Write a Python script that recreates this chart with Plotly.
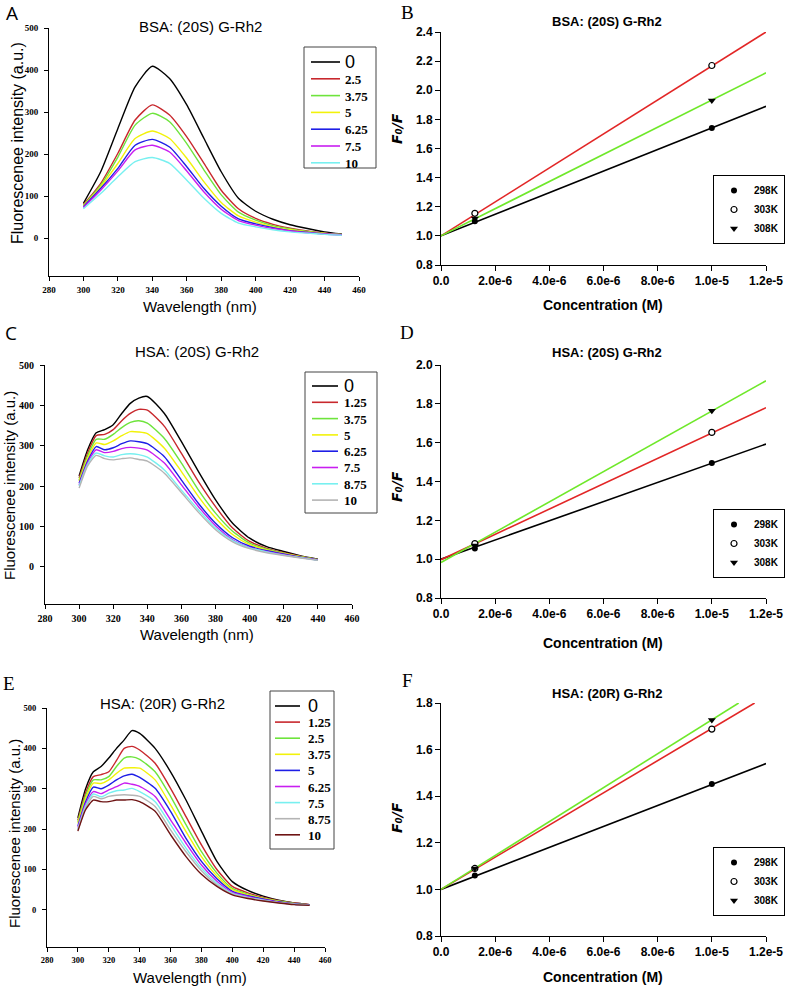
import plotly.graph_objects as go

W, H = 789, 987

# ---------------- Panel A: BSA (20S) emission spectra ----------------
A_wl = [300, 310, 320, 330, 340, 350, 360, 370, 380, 390, 400, 410, 420, 430, 440, 450]
A_labels = ["0", "2.5", "3.75", "5", "6.25", "7.5", "10"]
A_0 = [83, 158, 261, 360, 409, 380, 317, 237, 158, 95, 64, 45, 32, 23, 15, 10]
A_2_5 = [80, 130, 202, 281, 317, 293, 241, 178, 114, 70, 47, 33, 24, 17, 12, 9]
A_3_75 = [78, 126, 193, 269, 297, 277, 225, 162, 103, 62, 43, 30, 22, 16, 11, 9]
A_5 = [77, 122, 178, 237, 255, 237, 190, 134, 85, 53, 38, 27, 20, 15, 11, 8]
A_6_25 = [75, 118, 166, 221, 235, 217, 170, 118, 76, 46, 34, 25, 18, 14, 10, 8]
A_7_5 = [73, 114, 160, 210, 221, 205, 160, 110, 69, 42, 31, 23, 17, 13, 10, 8]
A_10 = [70, 106, 146, 182, 192, 178, 138, 95, 59, 36, 27, 20, 15, 12, 9, 7]

# ---------------- Panel C: HSA (20S) emission spectra ----------------
C_wl = [300, 305, 310, 315, 320, 325, 330, 335, 340, 350, 360, 370, 380, 390, 400, 410, 420, 430, 440]
C_labels = ["0", "1.25", "3.75", "5", "6.25", "7.5", "8.75", "10"]
C_0 = [225, 290, 332, 340, 352, 380, 405, 418, 422, 380, 310, 236, 166, 108, 71, 50, 38, 27, 19]
C_1_25 = [220, 282, 325, 328, 340, 362, 380, 390, 388, 348, 281, 211, 149, 96, 63, 46, 35, 26, 18]
C_3_75 = [215, 275, 316, 316, 328, 345, 358, 362, 356, 318, 257, 190, 133, 88, 59, 44, 34, 25, 18]
C_5 = [212, 268, 307, 303, 312, 325, 335, 334, 330, 294, 236, 174, 121, 80, 55, 42, 33, 25, 17]
C_6_25 = [207, 262, 298, 290, 295, 305, 312, 310, 305, 273, 215, 157, 108, 72, 51, 40, 32, 24, 17]
C_7_5 = [203, 258, 290, 283, 286, 293, 296, 294, 289, 257, 203, 149, 102, 67, 48, 38, 30, 23, 17]
C_8_75 = [200, 254, 282, 275, 272, 278, 280, 278, 272, 240, 190, 141, 96, 65, 47, 37, 29, 23, 16]
C_10 = [195, 250, 276, 268, 265, 268, 270, 266, 262, 232, 184, 135, 92, 62, 45, 35, 28, 22, 16]

# ---------------- Panel E: HSA (20R) emission spectra ----------------
E_wl = [300, 305, 310, 315, 320, 325, 330, 335, 340, 350, 360, 370, 380, 390, 400, 410, 420, 430, 440, 450]
E_labels = ["0", "1.25", "2.5", "3.75", "5", "6.25", "7.5", "8.75", "10"]
E_0 = [228, 300, 342, 355, 376, 400, 421, 444, 437, 400, 342, 272, 195, 120, 70, 48, 34, 24, 17, 13]
E_1_25 = [222, 290, 330, 335, 342, 370, 400, 405, 396, 363, 301, 231, 161, 100, 58, 42, 31, 23, 17, 13]
E_2_5 = [218, 283, 322, 322, 330, 355, 376, 379, 373, 342, 281, 211, 144, 91, 53, 39, 29, 22, 16, 12]
E_3_75 = [214, 276, 314, 313, 322, 338, 351, 352, 351, 322, 260, 194, 132, 84, 50, 37, 28, 21, 15, 12]
E_5 = [208, 268, 304, 300, 309, 322, 332, 336, 328, 301, 244, 177, 120, 77, 46, 35, 27, 20, 15, 12]
E_6_25 = [204, 262, 293, 288, 297, 305, 314, 311, 306, 281, 223, 165, 111, 71, 43, 33, 25, 19, 14, 11]
E_7_5 = [200, 257, 287, 280, 289, 295, 297, 301, 293, 268, 211, 153, 103, 66, 41, 31, 24, 18, 14, 11]
E_8_75 = [198, 252, 281, 275, 281, 284, 285, 284, 281, 256, 198, 144, 97, 62, 39, 30, 23, 18, 14, 11]
E_10 = [195, 248, 272, 268, 268, 272, 272, 273, 268, 244, 186, 132, 88, 58, 37, 28, 22, 17, 13, 11]

# ---------------- Stern-Volmer plots (B, D, F) ----------------
temps = ["298K", "303K", "308K"]
conc_pts = [1.25e-6, 1.0e-5]

B_298 = [1.10, 1.74]
B_303 = [1.155, 2.17]
B_308 = [1.12, 1.93]
B_fit_x298 = [0, 1.2e-5]; B_fit_298 = [1.0, 1.89]
B_fit_x303 = [0, 1.2e-5]; B_fit_303 = [1.0, 2.40]
B_fit_x308 = [0, 1.2e-5]; B_fit_308 = [1.0, 2.12]

D_298 = [1.055, 1.495]
D_303 = [1.08, 1.653]
D_308 = [1.07, 1.765]
D_fit_x298 = [0, 1.2e-5]; D_fit_298 = [1.0, 1.593]
D_fit_x303 = [0, 1.2e-5]; D_fit_303 = [0.997, 1.78]
D_fit_x308 = [0, 1.2e-5]; D_fit_308 = [0.983, 1.919]

F_298 = [1.06, 1.452]
F_303 = [1.09, 1.688]
F_308 = [1.09, 1.727]
F_fit_x298 = [0, 1.2e-5]; F_fit_298 = [1.0, 1.54]
F_fit_x303 = [0, 1.158e-5]; F_fit_303 = [1.0, 1.80]
F_fit_x308 = [0, 1.099e-5]; F_fit_308 = [1.0, 1.80]

conc_ticks = [0, 2e-6, 4e-6, 6e-6, 8e-6, 1e-5, 1.2e-5]
conc_ticktext = ["0.0", "2.0e-6", "4.0e-6", "6.0e-6", "8.0e-6", "1.0e-5", "1.2e-5"]

# ---------------- styling ----------------
SPEC_COLORS = {
    "black": "#000000", "red": "#c8282d", "green": "#6ee43c", "yellow": "#f2f20a",
    "blue": "#1e1ee6", "magenta": "#c81ef0", "cyan": "#78f0f0", "gray": "#b4b4b4",
    "brown": "#6e1414",
}
A_cols = ["black", "red", "green", "yellow", "blue", "magenta", "cyan"]
C_cols = ["black", "red", "green", "yellow", "blue", "magenta", "cyan", "gray"]
E_cols = ["black", "red", "green", "yellow", "blue", "magenta", "cyan", "gray", "brown"]
SV_COLORS = ["#000000", "#e22626", "#6fe82a"]


def px_x(p):
    return p / W


def px_y(p):
    return 1 - p / H


fig = go.Figure()
shapes = []
annotations = []


def ann(text, x, y, size, family="Liberation Sans", weight="normal", angle=0,
        color="black", xanchor="center", style="normal"):
    annotations.append(dict(text=text, x=px_x(x), y=px_y(y), xref="paper", yref="paper",
                            showarrow=False, textangle=angle, xanchor=xanchor, yanchor="middle",
                            font=dict(size=size, family=family, color=color, weight=weight,
                                      style=style)))


def add_spectra(wl, series, labels, cols, xa, ya, box, first_y, step, line_x, text_x, lsize):
    for s, lbl, c in zip(series, labels, cols):
        fig.add_trace(go.Scatter(
            x=wl, y=s, mode="lines", name=lbl,
            line=dict(color=SPEC_COLORS[c], width=1.4, shape="spline", smoothing=0.6),
            xaxis=xa, yaxis=ya, showlegend=False, hoverinfo="skip"))
    # legend box drawn from the label / colour lists
    x0, y0, x1, y1 = box
    shapes.append(dict(type="rect", xref="paper", yref="paper", x0=px_x(x0), x1=px_x(x1),
                       y0=px_y(y1), y1=px_y(y0), line=dict(color="#444444", width=1),
                       fillcolor="white", layer="above"))
    for i, (lbl, c) in enumerate(zip(labels, cols)):
        yc = first_y + i * step
        shapes.append(dict(type="line", xref="paper", yref="paper",
                           x0=px_x(line_x[0]), x1=px_x(line_x[1]), y0=px_y(yc), y1=px_y(yc),
                           line=dict(color=SPEC_COLORS[c], width=1.6), layer="above"))
        if lbl == "0":
            ann(lbl, text_x, yc, lsize + 5, family="Liberation Sans", xanchor="left")
        else:
            ann(lbl, text_x, yc + 0.5, lsize, family="Liberation Serif", weight="bold",
                xanchor="left")


add_spectra(A_wl, [A_0, A_2_5, A_3_75, A_5, A_6_25, A_7_5, A_10], A_labels, A_cols, "x", "y",
            (304, 47, 376, 168), 62, 16.8, (311, 340), 343, 13)
add_spectra(C_wl, [C_0, C_1_25, C_3_75, C_5, C_6_25, C_7_5, C_8_75, C_10], C_labels, C_cols,
            "x3", "y3", (305, 372, 377, 513), 386, 16.3, (312, 338), 342, 13)
add_spectra(E_wl, [E_0, E_1_25, E_2_5, E_3_75, E_5, E_6_25, E_7_5, E_8_75, E_10], E_labels,
            E_cols, "x5", "y5", (270, 691, 334, 849), 706, 16.1, (275, 300), 306, 13)


def add_sv(fits, pts, xa, ya, leg):
    for (fx, fy), c in zip(fits, SV_COLORS):
        fig.add_trace(go.Scatter(x=fx, y=fy, mode="lines", line=dict(color=c, width=1.6),
                                 xaxis=xa, yaxis=ya, showlegend=False, hoverinfo="skip"))
    symbols = [dict(symbol="circle", color="black", size=6),
               dict(symbol="circle", color="white", size=6, line=dict(color="black", width=1.2)),
               dict(symbol="triangle-down", color="black", size=7)]
    for p, t, m in zip(pts, temps, symbols):
        fig.add_trace(go.Scatter(x=conc_pts, y=p, mode="markers", name=t, marker=m,
                                 xaxis=xa, yaxis=ya, legend=leg, hoverinfo="skip"))


add_sv([(B_fit_x298, B_fit_298), (B_fit_x303, B_fit_303), (B_fit_x308, B_fit_308)],
       [B_298, B_303, B_308], "x2", "y2", "legend")
add_sv([(D_fit_x298, D_fit_298), (D_fit_x303, D_fit_303), (D_fit_x308, D_fit_308)],
       [D_298, D_303, D_308], "x4", "y4", "legend2")
add_sv([(F_fit_x298, F_fit_298), (F_fit_x303, F_fit_303), (F_fit_x308, F_fit_308)],
       [F_298, F_303, F_308], "x6", "y6", "legend3")

serif_bold = dict(family="Liberation Serif", color="black", weight="bold")
sans_bold = dict(family="Liberation Sans", color="black", weight="bold")


def spec_axes(xdom, ydom, tick_size, ymin):
    xa = dict(domain=[px_x(xdom[0]), px_x(xdom[1])], range=[280, 460], dtick=20, tick0=280,
              showline=True, linecolor="black", linewidth=1, ticks="outside", ticklen=4,
              tickcolor="black", showgrid=False, zeroline=False,
              tickfont=dict(size=tick_size, **serif_bold), ticklabelstandoff=1)
    ya = dict(domain=[px_y(ydom[1]), px_y(ydom[0])], range=[ymin, 500],
              tickvals=[0, 100, 200, 300, 400, 500],
              showline=True, linecolor="black", linewidth=1, ticks="outside", ticklen=4,
              tickcolor="black", showgrid=False, zeroline=False,
              tickfont=dict(size=tick_size, **serif_bold), ticklabelstandoff=4)
    return xa, ya


def sv_axes(ydom, yrng):
    xa = dict(domain=[px_x(441), px_x(766)], range=[0, 1.2e-5], tickvals=conc_ticks,
              ticktext=conc_ticktext, showline=True, linecolor="black", linewidth=1,
              ticks="outside", ticklen=5, tickcolor="black", showgrid=False, zeroline=False,
              tickfont=dict(size=12, **sans_bold))
    ya = dict(domain=[px_y(ydom[1]), px_y(ydom[0])], range=yrng, dtick=0.2, tick0=0.8,
              tickformat=".1f", showline=True, linecolor="black", linewidth=1,
              ticks="outside", ticklen=5, tickcolor="black", showgrid=False, zeroline=False,
              tickfont=dict(size=12, **sans_bold))
    return xa, ya


xA, yA = spec_axes((49, 359), (28, 276), 9, -90)
xC, yC = spec_axes((45, 352), (365, 604), 10, -92)
xE, yE = spec_axes((47, 325), (708, 947), 8.5, -92)
xB, yB = sv_axes((32, 265), [0.8, 2.4])
xD, yD = sv_axes((365, 598), [0.8, 2.0])
xF, yF = sv_axes((703, 936), [0.8, 1.8])

for ax, a in [(xA, "y"), (xB, "y2"), (xC, "y3"), (xD, "y4"), (xE, "y5"), (xF, "y6")]:
    ax["anchor"] = a
for ax, a in [(yA, "x"), (yB, "x2"), (yC, "x3"), (yD, "x4"), (yE, "x5"), (yF, "x6")]:
    ax["anchor"] = a


def sv_legend(top):
    return dict(x=px_x(713), y=px_y(top), xanchor="left", yanchor="top",
                bgcolor="white", bordercolor="black", borderwidth=1,
                font=dict(size=10, **sans_bold), itemwidth=30, tracegroupgap=0)


# panel letters
ann("A", 12, 13, 19, family="Open Sans")
ann("B", 407, 13, 19, family="Liberation Serif")
ann("C", 11, 333, 19, family="Open Sans")
ann("D", 407, 333, 19, family="Liberation Serif")
ann("E", 9, 683, 19, family="Liberation Serif")
ann("F", 407, 680, 19, family="Liberation Serif")

# spectra titles
ann("BSA: (20S) G-Rh2", 200, 26, 15)
ann("HSA: (20S) G-Rh2", 197, 351, 15)
ann("HSA: (20R) G-Rh2", 162, 703, 15)
# SV titles
ann("BSA: (20S) G-Rh2", 607, 22, 13, weight="bold")
ann("HSA: (20S) G-Rh2", 607, 353, 13, weight="bold")
ann("HSA: (20R) G-Rh2", 607, 693, 13, weight="bold")

# spectra axis titles
ann("Fluorescenee intensity (a.u.)", 17, 143, 16, angle=-90)
ann("Fluorescenee intensity (a.u.)", 9, 486, 15, angle=-90)
ann("Fluorescenee intensity (a.u.)", 14, 834, 15, angle=-90)
ann("Wavelength (nm)", 200, 306, 15)
ann("Wavelength (nm)", 197, 634, 15)
ann("Wavelength (nm)", 190, 977, 15)

# SV axis titles
for yc in (129, 487, 818):
    ann("F\u2080/F", 397, yc, 14, family="DejaVu Sans", angle=-90, weight="bold",
        style="italic")
ann("Concentration (M)", 603, 305, 14, weight="bold")
ann("Concentration (M)", 603, 643, 14, weight="bold")
ann("Concentration (M)", 603, 977, 14, weight="bold")

fig.update_layout(
    width=W, height=H, margin=dict(l=0, r=0, t=0, b=0, autoexpand=False),
    paper_bgcolor="white", plot_bgcolor="white",
    font=dict(family="Liberation Sans", color="black"),
    xaxis=xA, yaxis=yA, xaxis2=xB, yaxis2=yB, xaxis3=xC, yaxis3=yC,
    xaxis4=xD, yaxis4=yD, xaxis5=xE, yaxis5=yE, xaxis6=xF, yaxis6=yF,
    legend=sv_legend(175),
    legend2=sv_legend(509),
    legend3=sv_legend(847),
    shapes=shapes,
    annotations=annotations,
    showlegend=True,
)

fig.write_html("out.html", config={"displayModeBar": False},
               post_script="document.body.style.margin='0';document.body.style.padding='0';")
